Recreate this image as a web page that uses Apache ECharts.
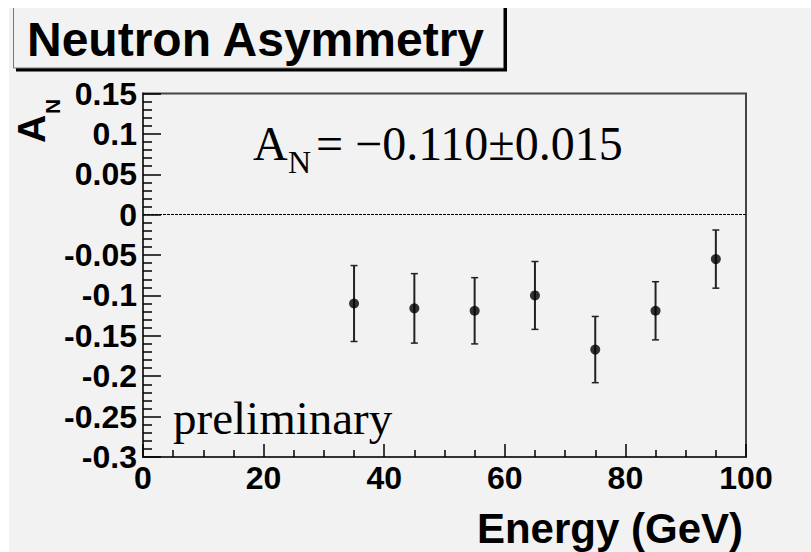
<!DOCTYPE html>
<html><head><meta charset="utf-8">
<script src="https://cdn.jsdelivr.net/npm/echarts@6/dist/echarts.min.js"></script>
<style>html,body{margin:0;padding:0;background:#fff}#c{width:811px;height:552px}</style>
</head><body><div id="c"></div>
<script>
// ---- data ----
const energy = [35, 45, 55, 65, 75, 85, 95];
const asymmetry = [-0.110, -0.116, -0.119, -0.100, -0.167, -0.119, -0.055];
const asymErr = [0.047, 0.043, 0.041, 0.042, 0.041, 0.036, 0.036];
const xTickLabels = ['0', '20', '40', '60', '80', '100'];
const yTickLabels = ['-0.3', '-0.25', '-0.2', '-0.15', '-0.1', '-0.05', '0', '0.05', '0.1', '0.15'];
const titleText = 'Neutron Asymmetry';
const xName = 'Energy (GeV)';
const yNameMain = 'A';
const yNameSub = 'N';
const fitMain = 'A';
const fitSub = 'N';
const fitRest = '= \u22120.110\u00b10.015';
const prelimText = 'preliminary';
const zeroLine = 0;

const xMin = 0, xMax = 100, xStep = 20;
const yMin = -0.3, yMax = 0.15, yStep = 0.05;

const SANS = '"Liberation Sans", Arial, Helvetica, sans-serif';
const SERIF = '"Liberation Serif", "Times New Roman", serif';

const chart = echarts.init(document.getElementById('c'), null, {renderer: 'svg'});

const option = {
  animation: false,
  backgroundColor: '#f2f2f2',
  title: {
    text: titleText,
    left: 13, top: 5,
    padding: [10, 21, 6, 14],
    textStyle: {fontFamily: SANS, fontWeight: 'bold', fontSize: 48, color: '#000'},
    z: 10
  },
  grid: {
    left: 143, right: 65, top: 93.5, bottom: 95,
    show: true, borderColor: '#444', borderWidth: 2, backgroundColor: 'transparent',
    containLabel: false, outerBoundsMode: 'none'
  },
  xAxis: {
    type: 'value', min: xMin, max: xMax, interval: xStep,
    axisLine: {show: true, onZero: false, lineStyle: {color: '#333', width: 2}},
    axisTick: {show: true, inside: true, length: 13, lineStyle: {color: '#000', width: 1.5}},
    minorTick: {show: true, splitNumber: 4, length: 7, lineStyle: {color: '#000', width: 1.5}},
    splitLine: {show: false}, minorSplitLine: {show: false},
    axisLabel: {
      margin: 5, fontFamily: SANS, fontWeight: 'bold', fontSize: 32, color: '#000',
      showMinLabel: true, showMaxLabel: true, hideOverlap: false,
      formatter: v => xTickLabels[Math.round((v - xMin) / xStep)]
    },
    name: xName, nameLocation: 'end', nameGap: -3,
    nameTextStyle: {fontFamily: SANS, fontWeight: 'bold', fontSize: 42, color: '#000',
      align: 'right', verticalAlign: 'top', padding: [50, 0, 0, 0]}
  },
  yAxis: {
    type: 'value', min: yMin, max: yMax, interval: yStep,
    axisLine: {show: true, onZero: false, lineStyle: {color: '#333', width: 2}},
    axisTick: {show: true, inside: true, length: 18, lineStyle: {color: '#000', width: 1.5}},
    minorTick: {show: true, splitNumber: 5, length: 9, lineStyle: {color: '#000', width: 1.5}},
    splitLine: {show: false}, minorSplitLine: {show: false},
    axisLabel: {
      margin: 6, fontFamily: SANS, fontWeight: 'bold', fontSize: 32, color: '#000',
      padding: [9, 0, 0, 0],
      showMinLabel: true, showMaxLabel: true, hideOverlap: false,
      formatter: v => yTickLabels[Math.round((v - yMin) / yStep)]
    }
  },
  graphic: [
    {type: 'rect', shape: {x: 16, y: 8, width: 491, height: 63.5}, style: {fill: '#000'}, z: 1},
    {type: 'rect', shape: {x: 13.5, y: 5.5, width: 490, height: 62.5}, style: {fill: '#f2f2f2', stroke: '#777', lineWidth: 1}, z: 2},
    {type: 'rect', shape: {x: 0, y: 0, width: 811, height: 8}, style: {fill: '#fff'}, z: 100},
    {type: 'rect', shape: {x: 0, y: 0, width: 9, height: 552}, style: {fill: '#fff'}, z: 100},
    {type: 'text', x: 31.5, y: 143, rotation: Math.PI / 2, z: 20,
      style: {text: yNameMain, font: 'bold 39px ' + SANS, fill: '#000', align: 'left', verticalAlign: 'middle'}},
    {type: 'text', x: 52.7, y: 114, rotation: Math.PI / 2, z: 20,
      style: {text: yNameSub, font: 'bold 21px ' + SANS, fill: '#000', align: 'left', verticalAlign: 'middle'}},
    {type: 'text', x: 253, y: 143.8, z: 20,
      style: {text: fitMain, font: '48px ' + SERIF, fill: '#000', align: 'left', verticalAlign: 'middle'}},
    {type: 'text', x: 288, y: 162.2, z: 20,
      style: {text: fitSub, font: '32px ' + SERIF, fill: '#000', align: 'left', verticalAlign: 'middle'}},
    {type: 'text', x: 316, y: 143.8, z: 20,
      style: {text: fitRest, font: '48px ' + SERIF, fill: '#000', align: 'left', verticalAlign: 'middle'}},
    {type: 'text', x: 173, y: 418.2, z: 20,
      style: {text: prelimText, font: '47px ' + SERIF, fill: '#000', align: 'left', verticalAlign: 'middle'}}
  ],
  series: [
    {
      type: 'custom',
      z: 3,
      data: energy.map((x, i) => [x, asymmetry[i], asymErr[i]]),
      renderItem: function (params, api) {
        const x = api.value(0), y = api.value(1), e = api.value(2);
        const top = api.coord([x, y + e]);
        const bot = api.coord([x, y - e]);
        const cw = 3.5;
        return {
          type: 'group',
          children: [
            {type: 'line', shape: {x1: top[0], y1: top[1], x2: bot[0], y2: bot[1]}, style: {stroke: '#222', lineWidth: 2}},
            {type: 'line', shape: {x1: top[0] - cw, y1: top[1], x2: top[0] + cw, y2: top[1]}, style: {stroke: '#222', lineWidth: 1.5}},
            {type: 'line', shape: {x1: bot[0] - cw, y1: bot[1], x2: bot[0] + cw, y2: bot[1]}, style: {stroke: '#222', lineWidth: 1.5}}
          ]
        };
      }
    },
    {
      type: 'scatter',
      z: 4,
      symbol: 'circle',
      symbolSize: 10,
      itemStyle: {color: '#000'},
      data: energy.map((x, i) => [x, asymmetry[i]]),
      markLine: {
        silent: true,
        symbol: ['none', 'none'],
        label: {show: false},
        lineStyle: {color: '#000', type: [3, 1], width: 1},
        data: [{yAxis: zeroLine}]
      }
    }
  ]
};
chart.setOption(option);
</script>
</body></html>
